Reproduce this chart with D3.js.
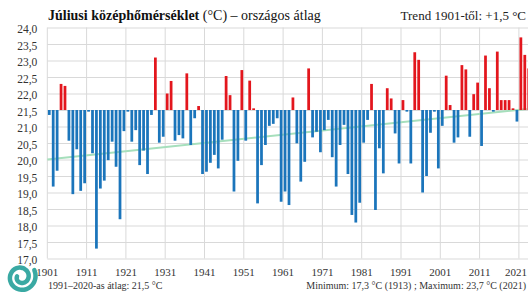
<!DOCTYPE html>
<html>
<head>
<meta charset="utf-8">
<script src="https://cdn.jsdelivr.net/npm/d3@7"></script>
<style>
  body { margin: 0; background: #fff; }
  svg { display: block; font-family: "Liberation Serif", "Times New Roman", serif; }
</style>
</head>
<body>
<div class="chart"></div>
<script>
// July mean temperature, national average (°C), 1901-2023
var years = d3.range(1901, 2024);
var temps = [
  21.35, 19.18, 19.66, 22.29, 22.23, 20.57, 18.95, 20.31, 19.05, 19.28,
  21.45, 20.19, 17.30, 19.12, 19.36, 19.98, 20.54, 19.78, 18.19, 20.86,
  21.45, 20.54, 20.89, 19.83, 20.27, 19.56, 21.35, 23.09, 20.51, 20.69,
  22.00, 22.38, 20.57, 20.74, 20.64, 22.61, 20.44, 21.25, 21.62, 19.56,
  19.63, 19.90, 20.14, 19.73, 20.60, 22.53, 21.95, 19.03, 19.96, 22.71,
  20.57, 22.39, 21.55, 18.67, 19.83, 20.44, 21.02, 21.08, 21.25, 18.72,
  19.03, 18.62, 21.88, 20.49, 19.33, 19.93, 22.76, 20.67, 20.84, 20.22,
  20.89, 21.20, 20.07, 19.18, 20.44, 21.05, 19.56, 18.32, 18.09, 18.69,
  20.51, 21.20, 22.29, 18.47, 20.34, 19.58, 22.16, 21.85, 20.79, 19.88,
  21.80, 21.45, 19.88, 23.25, 23.02, 19.00, 19.50, 20.81, 21.45, 19.73,
  21.02, 22.54, 21.65, 20.51, 20.67, 22.86, 22.73, 20.69, 21.98, 22.33,
  20.41, 23.15, 22.16, 21.45, 23.27, 21.80, 21.80, 21.80, 21.55, 21.15,
  23.70, 23.17, 22.76
];
var baseline = 21.5;   // 1991-2020 average
var trendYears = [1901, 2023];
var trendValues = [20.0, 21.53];
var yTicks = [17, 17.5, 18, 18.5, 19, 19.5, 20, 20.5, 21, 21.5, 22, 22.5, 23, 23.5, 24];
var xTickYears = [1901, 1911, 1921, 1931, 1941, 1951, 1961, 1971, 1981, 1991, 2001, 2011, 2021];

var data = years.map(function(y, i) { return {year: y, temp: temps[i]}; });

var W = 528, H = 295;
var plotLeft = 47.3, step = 3.93;
var plotTop = 27.5, plotBottom = 258.5;

var svg = d3.select(".chart").append("svg")
  .attr("width", W)
  .attr("height", H);

// scales
var xEdge = d3.scaleLinear()
  .domain([1901, 1901 + years.length])
  .range([plotLeft, plotLeft + step * years.length]);

var x = d3.scaleBand()
  .domain(years)
  .range([plotLeft, plotLeft + step * years.length])
  .paddingInner(0.3)
  .paddingOuter(0.15);

var y = d3.scaleLinear()
  .domain([17, 24])
  .range([plotBottom, plotTop]);

// horizontal gridlines + y labels
var yAxis = svg.append("g")
  .attr("transform", "translate(" + plotLeft + ",0)")
  .call(d3.axisLeft(y)
    .tickValues(yTicks)
    .tickSize(-(W - plotLeft))
    .tickPadding(10)
    .tickFormat(function(d) { return d3.format(".1f")(d).replace(".", ","); }));
yAxis.select(".domain").remove();
yAxis.selectAll("line").attr("stroke", "#d9d9d9");
yAxis.selectAll("text")
  .attr("fill", "#333")
  .attr("dy", "0.45em")
  .style("font-family", "Liberation Serif, serif")
  .style("font-size", "11.5px");

// vertical gridlines
svg.append("g").selectAll("line")
  .data(xTickYears)
  .enter().append("line")
  .attr("x1", function(d) { return xEdge(d); })
  .attr("x2", function(d) { return xEdge(d); })
  .attr("y1", plotTop)
  .attr("y2", plotBottom)
  .attr("stroke", "#d9d9d9");

// trend line
var trend = trendYears.map(function(yr, i) { return {year: yr, v: trendValues[i]}; });
svg.append("path")
  .datum(trend)
  .attr("fill", "none")
  .attr("stroke", "#a6dfbc")
  .attr("stroke-width", 2)
  .attr("d", d3.line()
    .x(function(d) { return xEdge(d.year); })
    .y(function(d) { return y(d.v); }));

// bars from the 1991-2020 average
svg.append("g").selectAll("rect")
  .data(data)
  .enter().append("rect")
  .attr("x", function(d) { return x(d.year); })
  .attr("width", x.bandwidth())
  .attr("y", function(d) { return y(Math.max(d.temp, baseline)); })
  .attr("height", function(d) { return Math.abs(y(d.temp) - y(baseline)); })
  .attr("fill", function(d) { return d.temp > baseline ? "#e3161d" : "#1b75bb"; });

// x labels (last one kept inside the picture)
svg.append("g").selectAll("text")
  .data(xTickYears)
  .enter().append("text")
  .attr("y", 276)
  .attr("text-anchor", "middle")
  .attr("fill", "#333")
  .style("font-size", "11px")
  .text(function(d) { return d; })
  .attr("x", function(d) {
    var half = this.getComputedTextLength() / 2;
    return Math.min(xEdge(d), W - 1 - half);
  });

// title
var title = svg.append("text")
  .attr("x", 48)
  .attr("y", 20)
  .attr("fill", "#111")
  .style("font-size", "14px");
title.append("tspan").attr("font-weight", "bold").text("Júliusi középhőmérséklet");
title.append("tspan").text(" (°C) – országos átlag");

svg.append("text")
  .attr("x", 526)
  .attr("y", 20)
  .attr("text-anchor", "end")
  .attr("fill", "#222")
  .style("font-size", "13px")
  .text("Trend 1901-től: +1,5 °C");

// footer notes
svg.append("text")
  .attr("x", 48)
  .attr("y", 289)
  .attr("fill", "#333")
  .style("font-size", "10px")
  .text("1991–2020-as átlag: 21,5 °C");

svg.append("text")
  .attr("x", 526)
  .attr("y", 289)
  .attr("text-anchor", "end")
  .attr("fill", "#333")
  .style("font-size", "10px")
  .text("Minimum: 17,3 °C (1913) ; Maximum: 23,7 °C (2021)");

// logo swirl
var spiral = d3.range(0, 1.001, 0.02).map(function(t) {
  return [Math.PI * 0.35 + t * Math.PI * 3.2, 15 - t * 11];
});
svg.append("path")
  .attr("transform", "translate(21,277)")
  .attr("fill", "none")
  .attr("stroke", "#3aa9a3")
  .attr("stroke-width", 4.5)
  .attr("stroke-linecap", "round")
  .attr("d", d3.lineRadial().curve(d3.curveCatmullRom)(spiral));
</script>
</body>
</html>
